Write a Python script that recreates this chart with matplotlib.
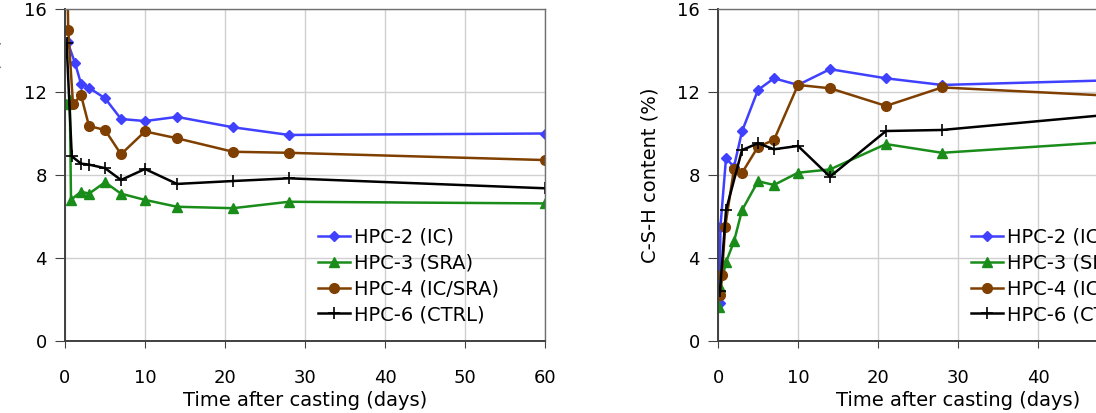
import matplotlib
matplotlib.use("Agg")
from matplotlib import pyplot as plt

# absorbed water content (%) vs time after casting (days)
w_days_hpc2 = [0.33, 1.25, 2, 3, 5, 7, 10, 14, 21, 28, 60]
w_hpc2 = [14.4, 13.4, 12.4, 12.2, 11.7, 10.7, 10.6, 10.8, 10.3, 9.93, 10.0]
w_days_hpc3 = [0.1, 0.6, 0.75, 2, 3, 5, 7, 10, 14, 21, 28, 60]
w_hpc3 = [11.4, 11.6, 6.8, 7.2, 7.1, 7.65, 7.1, 6.8, 6.47, 6.4, 6.71, 6.63]
w_days_hpc4 = [0.3, 0.4, 1, 2, 3, 5, 7, 10, 14, 21, 28, 60]
w_hpc4 = [17.5, 15.0, 11.4, 11.85, 10.36, 10.17, 9.0, 10.1, 9.77, 9.12, 9.07, 8.72]
w_days_hpc6 = [0.2, 0.85, 2, 3, 5, 7, 10, 14, 21, 28, 60]
w_hpc6 = [14.35, 8.9, 8.55, 8.5, 8.33, 7.76, 8.29, 7.57, 7.71, 7.84, 7.36]

# C-S-H content (%) vs time after casting (days)
c_days_hpc2 = [0.2, 0.3, 1, 2, 3, 5, 7, 10, 14, 21, 28, 60]
c_hpc2 = [1.85, 5.5, 8.8, 8.4, 10.1, 12.1, 12.66, 12.34, 13.1, 12.66, 12.34, 12.68]
c_days_hpc3 = [0.1, 0.3, 1, 2, 3, 5, 7, 10, 14, 21, 28, 60]
c_hpc3 = [1.65, 2.6, 3.8, 4.8, 6.3, 7.7, 7.52, 8.11, 8.27, 9.49, 9.07, 9.87]
c_days_hpc4 = [0.25, 0.5, 0.9, 2, 3, 5, 7, 10, 14, 21, 28, 60]
c_hpc4 = [2.2, 3.2, 5.5, 8.3, 8.1, 9.36, 9.69, 12.34, 12.18, 11.33, 12.22, 11.61]
c_days_hpc6 = [0.25, 1, 3, 5, 7, 10, 14, 21, 28, 60]
c_hpc6 = [2.4, 6.3, 9.2, 9.53, 9.24, 9.4, 7.92, 10.12, 10.17, 11.3]

labels = ['HPC-2 (IC)', 'HPC-3 (SRA)', 'HPC-4 (IC/SRA)', 'HPC-6 (CTRL)']
x_ticks = [0, 10, 20, 30, 40, 50, 60]
y_ticks = [0, 4, 8, 12, 16]

styles = [
    dict(color='#4040ff', marker='D', markersize=5.5),
    dict(color='#1a8c1a', marker='^', markersize=7),
    dict(color='#7f3f00', marker='o', markersize=7),
    dict(color='black', marker='+', markersize=9, markeredgewidth=1.2),
]


def draw_panel(ax, series, ylabel, ylabel_x):
    for (days, vals), lab, st in zip(series, labels, styles):
        ax.plot(days, vals, linewidth=1.8, label=lab, **st)
    ax.set_xlim(0, 60)
    ax.set_ylim(0, 16)
    ax.set_xticks(x_ticks)
    ax.set_yticks(y_ticks)
    ax.grid(color='#d0d0d0', linewidth=1)
    ax.set_axisbelow(True)
    ax.tick_params(axis='x', direction='out', length=5, pad=15, labelsize=13, color='#404040')
    ax.tick_params(axis='y', direction='out', length=7, pad=6, labelsize=13, color='#404040')
    for side in ['left', 'bottom']:
        ax.spines[side].set_color('#404040')
        ax.spines[side].set_linewidth(1.4)
    for side in ['top', 'right']:
        ax.spines[side].set_color('#707070')
        ax.spines[side].set_linewidth(1.0)
    ax.set_xlabel('Time after casting (days)', fontsize=14, labelpad=3)
    ax.set_ylabel(ylabel, fontsize=14)
    ax.yaxis.set_label_coords(ylabel_x, 0.5)
    ax.legend(loc='center left', bbox_to_anchor=(0.527, 0.196), frameon=False,
              fontsize=14, borderpad=0, borderaxespad=0, labelspacing=0.35,
              handlelength=1.65, handletextpad=0.2)


fig = plt.figure(figsize=(10.96, 4.13), dpi=100)
ax1 = fig.add_axes([65 / 1096, 72 / 413, 480 / 1096, 332 / 413])
ax2 = fig.add_axes([718 / 1096, 72 / 413, 480 / 1096, 332 / 413])

draw_panel(ax1, [(w_days_hpc2, w_hpc2), (w_days_hpc3, w_hpc3),
                 (w_days_hpc4, w_hpc4), (w_days_hpc6, w_hpc6)],
           'Absorbed water content (%)', -0.13)
draw_panel(ax2, [(c_days_hpc2, c_hpc2), (c_days_hpc3, c_hpc3),
                 (c_days_hpc4, c_hpc4), (c_days_hpc6, c_hpc6)],
           'C-S-H content (%)', -0.122)

fig.savefig('out.png', dpi=100)
